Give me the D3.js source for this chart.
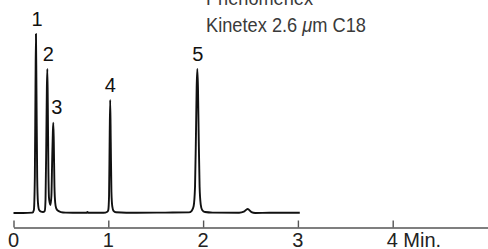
<!DOCTYPE html>
<html>
<head>
<meta charset="utf-8">
<script src="https://cdn.jsdelivr.net/npm/d3@7"></script>
<style>
  html, body { margin: 0; padding: 0; background: #fff; }
  svg { display: block; font-family: "Liberation Sans", Arial, Helvetica, sans-serif; }
</style>
</head>
<body>
<div id="chart"></div>
<script>
// Chromatogram, Kinetex 2.6 um C18 column. Trace.

// retention time (min) and detector signal (relative, apex of peak 1 = 100)
const traceTime = [
  0.00, 0.10, 0.20, 0.215, 0.225, 0.232, 0.237, 0.242, 0.250, 0.258, 0.270, 0.290, 0.310,
  0.330, 0.338, 0.346, 0.352, 0.357, 0.362, 0.368, 0.374, 0.382, 0.390,
  0.400, 0.408, 0.415, 0.420, 0.425, 0.432, 0.440, 0.450, 0.470, 0.500, 0.550, 0.700,
  0.770, 0.780, 0.790, 0.950, 0.990, 1.000, 1.008, 1.014, 1.020, 1.026, 1.033, 1.042, 1.055, 1.080,
  1.300, 1.600, 1.850, 1.880, 1.900, 1.915, 1.925, 1.932, 1.939, 1.946, 1.953, 1.963, 1.975, 1.990,
  2.020, 2.100, 2.380, 2.430, 2.470, 2.510, 2.550, 2.700, 3.020
];
const traceSignal = [
  0.3, 0.3, 0.5, 2, 20, 70, 100, 70, 20, 6, 2, 1, 0.8,
  1.5, 8, 40, 70, 80.5, 60, 25, 9, 6, 4.7,
  10, 30, 45, 50.6, 40, 15, 6, 3, 1.5, 0.8, 0.5, 0.4,
  0.4, 0.9, 0.4, 0.4, 1, 2, 10, 40, 63.2, 40, 12, 4, 1.5, 0.7,
  0.4, 0.5, 0.6, 1.5, 4, 15, 45, 70, 80.5, 70, 45, 15, 5, 2,
  0.8, 0.5, 0.4, 1, 2.5, 0.8, 0.3, 0.4, 0.4
];

// peak numbers and their apex times
const peakLabels = ["1", "2", "3", "4", "5"];
const peakTimes = [0.237, 0.357, 0.420, 1.020, 1.939];
const peakHeights = [100, 80.5, 50.6, 63.2, 80.5];

const tickValues = [0, 1, 2, 3, 4];
const tickLabels = ["0", "1", "2", "3", "4 Min."];
const titleLines = ["Phenomenex", "Kinetex 2.6 ", "\u03bc", "m C18"];

const width = 488, height = 249;

const x = d3.scaleLinear().domain([0, 5]).range([13.5, 487.5]);
const y = d3.scaleLinear().domain([0, 100]).range([213.5, 34]);

const svg = d3.select("#chart").append("svg")
  .attr("width", width)
  .attr("height", height);

// time axis, ticks pointing up
const axisY = 227.5;
const axis = svg.append("g")
  .attr("transform", `translate(0,${axisY})`)
  .call(d3.axisTop(x)
    .tickValues(tickValues)
    .tickSize(7)
    .tickSizeOuter(0)
    .tickFormat(() => ""));
axis.select(".domain").attr("stroke", "#555").attr("stroke-width", 1.4);
axis.selectAll(".tick line").attr("stroke", "#555").attr("stroke-width", 1.4);

svg.append("g").selectAll("text")
  .data(tickValues)
  .join("text")
  .attr("x", d => x(d))
  .attr("y", axisY + 19.8)
  .attr("text-anchor", (d, i) => i === tickValues.length - 1 ? "start" : "middle")
  .attr("dx", (d, i) => i === tickValues.length - 1 ? "-0.3em" : 0)
  .attr("font-size", 20)
  .attr("fill", "#222")
  .text((d, i) => tickLabels[i]);

// chromatogram trace
const line = d3.line()
  .x(i => x(traceTime[i]))
  .y(i => y(traceSignal[i]))
  .curve(d3.curveMonotoneX);

svg.append("path")
  .datum(d3.range(traceTime.length))
  .attr("d", line)
  .attr("fill", "none")
  .attr("stroke", "#111")
  .attr("stroke-width", 1.9)
  .attr("stroke-linejoin", "round");

// peak numbers (2 and 3 sit a little to the right so they clear the crowded peaks)
const labelNudge = [1, 1, 3.5, 0, 0.5];
svg.append("g").selectAll("text")
  .data(peakLabels)
  .join("text")
  .attr("x", (d, i) => x(peakTimes[i]) + labelNudge[i])
  .attr("y", (d, i) => y(peakHeights[i]) - 8.5)
  .attr("text-anchor", "middle")
  .attr("font-size", 20)
  .attr("fill", "#111")
  .text(d => d);

// column caption, top of it runs off the picture
svg.append("text")
  .attr("x", 206)
  .attr("y", 5)
  .attr("font-size", 21)
  .attr("fill", "#3a3a3a")
  .attr("textLength", 107)
  .attr("lengthAdjust", "spacingAndGlyphs")
  .text(titleLines[0]);

const cap = svg.append("text")
  .attr("x", 206)
  .attr("y", 32.3)
  .attr("font-size", 21)
  .attr("fill", "#3a3a3a")
  .attr("textLength", 160)
  .attr("lengthAdjust", "spacingAndGlyphs");
cap.append("tspan").text(titleLines[1]);
cap.append("tspan").attr("font-style", "italic").text(titleLines[2]);
cap.append("tspan").text(titleLines[3]);
</script>
</body>
</html>
